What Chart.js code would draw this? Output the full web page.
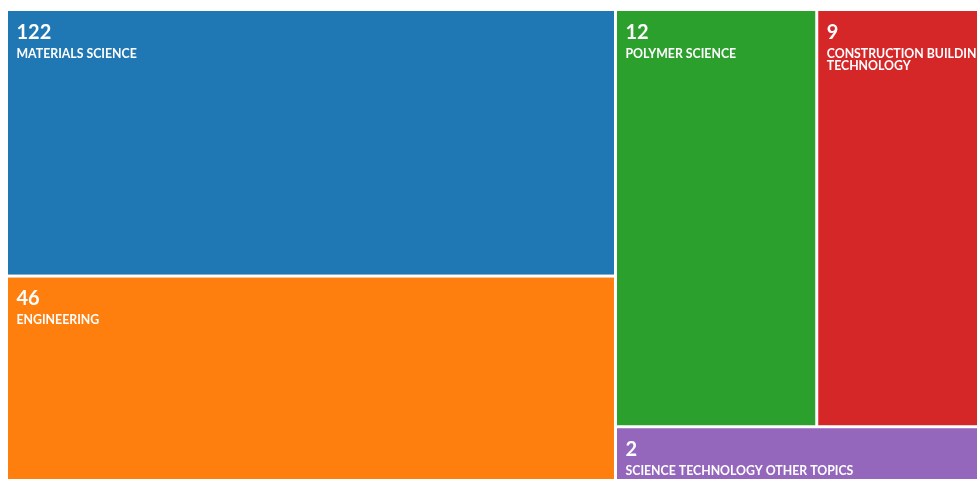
<!DOCTYPE html>
<html>
<head>
<meta charset="utf-8">
<script src="https://cdn.jsdelivr.net/npm/chart.js@4.4.0/dist/chart.umd.min.js"></script>
<style>
  html, body { margin: 0; padding: 0; background: #fff; overflow: hidden; }
  #treemap { display: block; }
</style>
</head>
<body>
<canvas id="treemap" width="1000" height="495"></canvas>
<script>
// research areas and record counts
const categories = [
    'MATERIALS SCIENCE',
    'ENGINEERING',
    'POLYMER SCIENCE',
    'CONSTRUCTION BUILDING TECHNOLOGY',
    'SCIENCE TECHNOLOGY OTHER TOPICS'
];
const records = [122, 46, 12, 9, 2];

const palette = ['#1f77b4', '#ff7f0e', '#2ca02c', '#d62728', '#9467bd'];

const numberFont = 'bold 20px Lato, "Open Sans", sans-serif';
const labelFont = 'bold 12.3px Lato, "Open Sans", sans-serif';

// squarified layout (golden ratio), cell area ~ log(count)
function squarify(items, rect, pw, ph) {
    const out = [];
    const ratio = (1 + Math.sqrt(5)) / 2;
    let x0 = rect.x0, y0 = rect.y0, x1 = rect.x1, y1 = rect.y1;
    let value = items.reduce((s, d) => s + d.w, 0);
    let i0 = 0, i1 = 0;
    const n = items.length;
    while (i0 < n) {
        const dx = (x1 - x0) * pw, dy = (y1 - y0) * ph;
        let sum = items[i1++].w;
        let minV = sum, maxV = sum;
        const alpha = Math.max(dy / dx, dx / dy) / (value * ratio);
        let beta = sum * sum * alpha;
        let minRatio = Math.max(maxV / beta, beta / minV);
        for (; i1 < n; ++i1) {
            const v = items[i1].w;
            sum += v;
            if (v < minV) minV = v;
            if (v > maxV) maxV = v;
            beta = sum * sum * alpha;
            const r = Math.max(maxV / beta, beta / minV);
            if (r > minRatio) { sum -= v; break; }
            minRatio = r;
        }
        const row = items.slice(i0, i1);
        if (dx < dy) {
            const yb = i1 < n ? y0 + (y1 - y0) * sum / value : y1;
            let x = x0;
            row.forEach(d => {
                const xe = x + (x1 - x0) * d.w / sum;
                out.push({ i: d.i, x0: x, x1: xe, y0: y0, y1: yb });
                x = xe;
            });
            y0 = yb;
        } else {
            const xb = i1 < n ? x0 + (x1 - x0) * sum / value : x1;
            let y = y0;
            row.forEach(d => {
                const ye = y + (y1 - y0) * d.w / sum;
                out.push({ i: d.i, x0: x0, x1: xb, y0: y, y1: ye });
                y = ye;
            });
            x0 = xb;
        }
        value -= sum;
        i0 = i1;
    }
    return out;
}

function wrapText(ctx, text, maxWidth) {
    const words = text.split(' ');
    const lines = [];
    let line = '';
    for (const w of words) {
        const test = line ? line + ' ' + w : w;
        if (line && ctx.measureText(test).width > maxWidth) {
            lines.push(line);
            line = w;
        } else {
            line = test;
        }
    }
    if (line) lines.push(line);
    return lines;
}

const treemapPlugin = {
    id: 'treemap',
    beforeDatasetsDraw(chart) {
        const { ctx, chartArea, scales: { x, y } } = chart;
        const items = records
            .map((v, i) => ({ i: i, w: Math.log(v) }))
            .sort((a, b) => b.w - a.w);
        const cells = squarify(items, { x0: 0, y0: 0, x1: 1, y1: 1 }, chartArea.width, chartArea.height);
        const gap = 1.5;
        cells.forEach(c => {
            const left = x.getPixelForValue(c.x0) + gap;
            const right = x.getPixelForValue(c.x1) - gap;
            const top = y.getPixelForValue(c.y0) + gap;
            const bottom = y.getPixelForValue(c.y1) - gap;
            ctx.save();
            ctx.fillStyle = palette[c.i];
            ctx.fillRect(left, top, right - left, bottom - top);
            ctx.beginPath();
            ctx.rect(left, top, right - left, bottom - top);
            ctx.clip();
            ctx.fillStyle = '#ffffff';
            ctx.textAlign = 'left';
            ctx.textBaseline = 'alphabetic';
            ctx.font = numberFont;
            ctx.fillText(String(records[c.i]), left + 8.5, top + 27.5);
            ctx.font = labelFont;
            wrapText(ctx, categories[c.i], right - left - 9).forEach((line, k) => {
                ctx.fillText(line, left + 8.5, top + 46.5 + k * 12);
            });
            ctx.restore();
        });
    }
};

const ctx = document.getElementById('treemap').getContext('2d');
const myChart = new Chart(ctx, {
    type: 'scatter',
    data: {
        datasets: [{ data: [] }]
    },
    options: {
        responsive: false,
        animation: false,
        devicePixelRatio: 1,
        layout: {
            padding: { left: 6.5, top: 9.5, right: 5.3, bottom: 6.5 }
        },
        scales: {
            x: { display: false, min: 0, max: 1 },
            y: { display: false, min: 0, max: 1, reverse: true }
        },
        plugins: {
            legend: { display: false },
            tooltip: { enabled: false }
        }
    },
    plugins: [treemapPlugin]
});
</script>
</body>
</html>
